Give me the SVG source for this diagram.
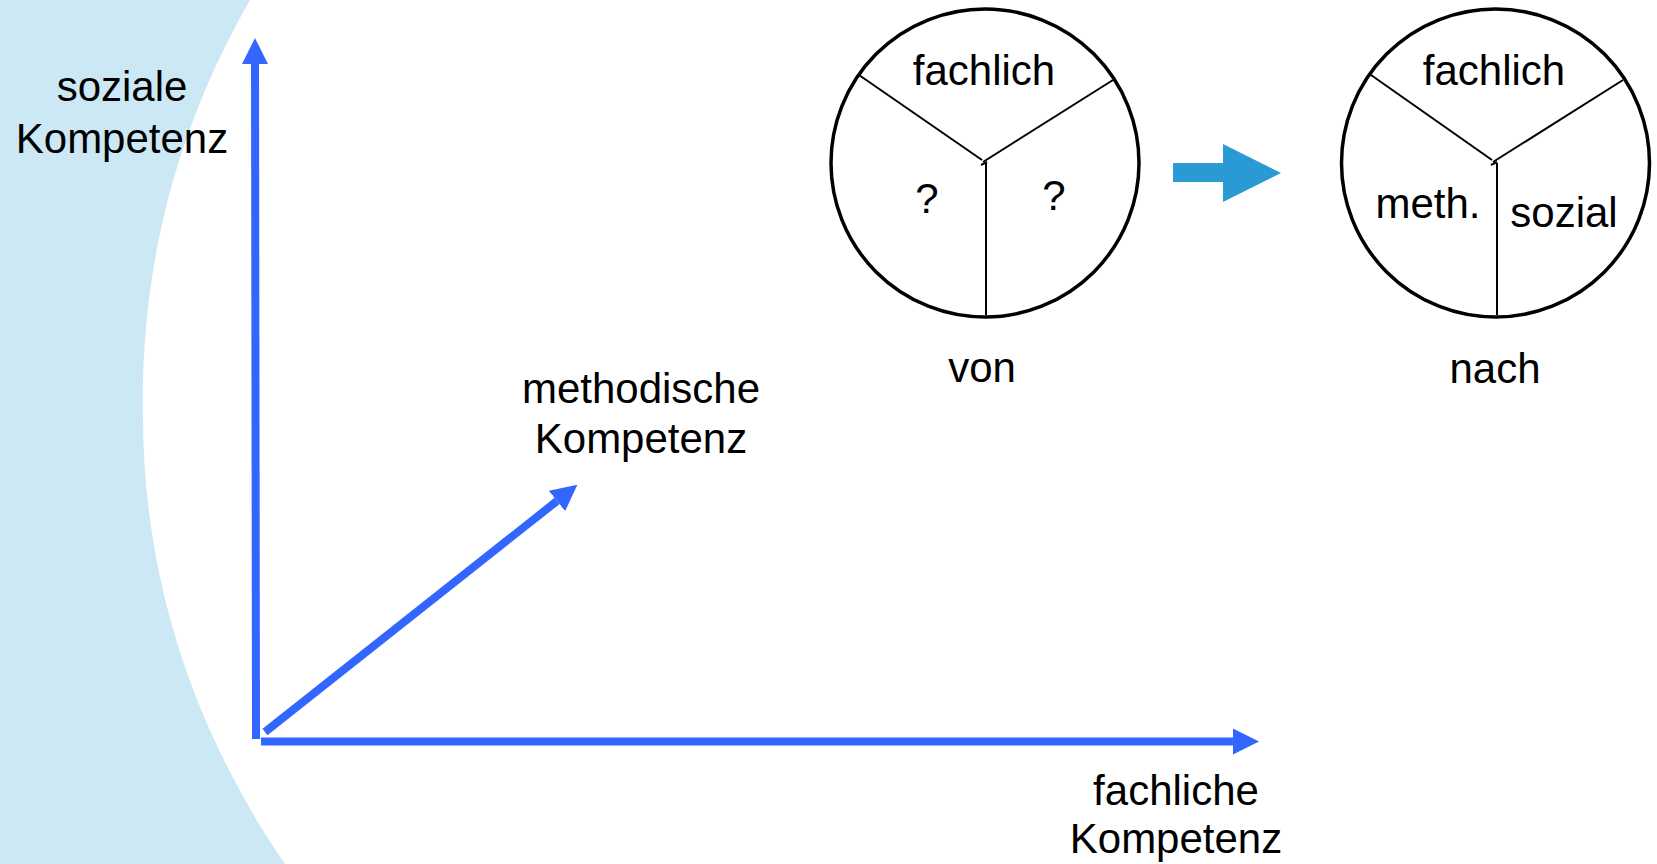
<svg xmlns="http://www.w3.org/2000/svg" width="1657" height="864" viewBox="0 0 1657 864">
  <style>
    text { font-family: "Liberation Sans", Arial, sans-serif; font-size: 42px; fill: #000; text-anchor: middle; }
    .axis { stroke: #3366FF; stroke-width: 8; fill: none; }
    .ring { fill: #fff; stroke: #000; stroke-width: 3.5; }
    .spoke { stroke: #000; stroke-width: 2; fill: none; }
  </style>
  <defs>
    <marker id="head" markerUnits="userSpaceOnUse" markerWidth="26" markerHeight="26" refX="0" refY="13" orient="auto" viewBox="0 0 26 26">
      <path d="M0,0 L26,13 L0,26 Z" fill="#3366FF"/>
    </marker>
  </defs>
  <rect width="1657" height="864" fill="#fff"/>
  <path id="backdrop" d="M0,0 L250,0 C170,140 140,280 143,420 C144,590 200,740 285,864 L0,864 Z" fill="#CCE8F5"/>

  <g id="connectors">
    <line class="axis" x1="256" y1="739" x2="255" y2="64" marker-end="url(#head)"/>
    <line class="axis" x1="261" y1="741.5" x2="1233" y2="741.5" marker-end="url(#head)"/>
    <line class="axis" x1="265" y1="732" x2="557" y2="501" marker-end="url(#head)"/>
    <polygon id="change-arrow" points="1173,163 1223,163 1223,144 1281,173 1223,202 1223,182 1173,182" fill="#2A9AD4"/>
  </g>

  <g id="label-soziale">
    <text x="122" y="101">soziale</text>
    <text x="122" y="153">Kompetenz</text>
  </g>
  <g id="label-methodische">
    <text x="641" y="403">methodische</text>
    <text x="641" y="453">Kompetenz</text>
  </g>
  <g id="label-fachliche">
    <text x="1176" y="805">fachliche</text>
    <text x="1176" y="853">Kompetenz</text>
  </g>

  <g id="circle-von">
    <circle class="ring" cx="985" cy="163" r="154"/>
    <line class="spoke" x1="859" y1="75" x2="982" y2="160"/>
    <line class="spoke" x1="1113" y1="80" x2="983" y2="162"/>
    <line class="spoke" x1="986" y1="163" x2="986" y2="315"/>
    <line class="spoke" x1="981" y1="165" x2="987" y2="162"/>
    <text x="984" y="85">fachlich</text>
    <text x="927" y="213">?</text>
    <text x="1054" y="210">?</text>
    <text x="982" y="382">von</text>
  </g>

  <g id="circle-nach">
    <circle class="ring" cx="1495.5" cy="163" r="154"/>
    <line class="spoke" x1="1371" y1="75" x2="1492" y2="160"/>
    <line class="spoke" x1="1623" y1="80" x2="1493" y2="162"/>
    <line class="spoke" x1="1497" y1="163" x2="1497" y2="315"/>
    <line class="spoke" x1="1491" y1="165" x2="1497" y2="162"/>
    <text x="1494" y="85">fachlich</text>
    <text x="1428" y="218">meth.</text>
    <text x="1564" y="227">sozial</text>
    <text x="1495" y="383">nach</text>
  </g>
</svg>
